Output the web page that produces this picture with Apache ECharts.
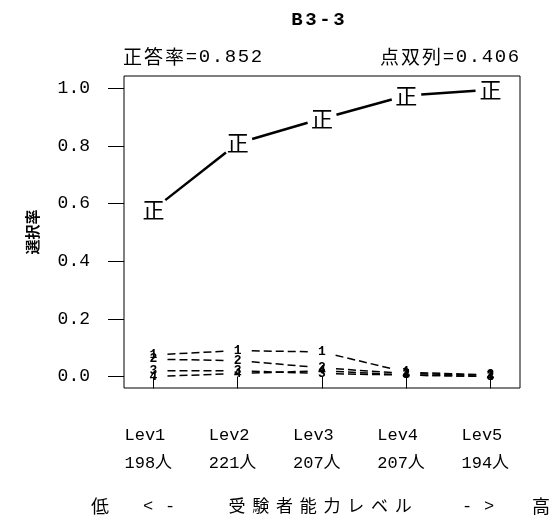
<!DOCTYPE html>
<html><head><meta charset="utf-8">
<script src="https://cdn.jsdelivr.net/npm/echarts@6/dist/echarts.min.js"></script>
<style>html,body{margin:0;padding:0;background:#fff}#c{width:559px;height:522px}</style>
</head><body><div id="c"></div>
<script>
// ---- data ----
const title = 'B3-3';
const levels = ['Lev1', 'Lev2', 'Lev3', 'Lev4', 'Lev5'];
const counts = ['198人', '221人', '207人', '207人', '194人'];
const correctRateText = '正答率=0.852';
const pointBiserialText = '点双列=0.406';
const yTicks = [0, 0.2, 0.4, 0.6, 0.8, 1.0];
const correctMark = '正';
const correct = [0.58, 0.81, 0.895, 0.975, 0.995];
const dist1 = [0.075, 0.09, 0.085, 0.015, 0.005];
const dist2 = [0.06, 0.055, 0.03, 0.01, 0.005];
const dist3 = [0.02, 0.02, 0.01, 0.005, 0.0];
const dist4 = [0.0, 0.01, 0.02, 0.005, 0.0];
const distLabels = ['1', '2', '3', '4'];
const yName = '選択率';
const xName = '受験者能力レベル';
const lowMark = '低', highMark = '高', leftArrow = '<-', rightArrow = '->';

// ---- helpers ----
const CJK = '"Noto Sans CJK JP"';
const MONO = '"Liberation Mono","DejaVu Sans Mono",monospace';
function spaced(str) {
  return Array.from(str).map(ch => (ch.charCodeAt(0) > 255 ? '{k|' + ch + '}' : '{a|' + ch + '}')).join('');
}
function richSet(cw, aw, size, bold) {
  return {
    k: { width: cw, align: 'center', fontSize: size, fontFamily: CJK, fontWeight: bold ? 'bold' : 'normal', fill: '#000' },
    a: { width: aw, align: 'center', fontSize: size, fontFamily: MONO, fontWeight: bold ? 'bold' : 'normal', fill: '#000' }
  };
}
const xs = levels.map((_, i) => i + 1);

function segSeries(vals, dashed, width, gap) {
  const data = [];
  for (let i = 0; i < vals.length - 1; i++) data.push([xs[i], vals[i], xs[i + 1], vals[i + 1]]);
  return {
    type: 'custom', coordinateSystem: 'cartesian2d', silent: true, data,
    encode: { x: [0, 2], y: [1, 3] },
    renderItem(params, api) {
      const p1 = api.coord([api.value(0), api.value(1)]);
      const p2 = api.coord([api.value(2), api.value(3)]);
      const dx = p2[0] - p1[0], dy = p2[1] - p1[1];
      const L = Math.hypot(dx, dy), ux = dx / L, uy = dy / L;
      return {
        type: 'line',
        shape: { x1: p1[0] + ux * gap, y1: p1[1] + uy * gap, x2: p2[0] - ux * gap, y2: p2[1] - uy * gap },
        style: { stroke: '#000', lineWidth: width, lineDash: dashed ? [8, 4] : null }
      };
    }
  };
}
function markSeries(vals, mark, size, family, bold) {
  return {
    type: 'scatter', silent: true, symbolSize: 1, itemStyle: { color: 'rgba(0,0,0,0)' },
    data: vals.map((v, i) => [xs[i], v]),
    labelLayout: { hideOverlap: false },
    label: { show: true, position: 'inside', formatter: mark, color: '#000', opacity: 1, fontSize: size, fontFamily: family, fontWeight: bold ? 'bold' : 'normal' },
    z: 5
  };
}

const chart = echarts.init(document.getElementById('c'), null, { renderer: 'canvas' });
const dists = [dist1, dist2, dist3, dist4];
const series = [segSeries(correct, false, 2.5, 15), markSeries(correct, correctMark, 22, CJK, false)];
dists.forEach((d, k) => {
  series.push(segSeries(d, true, 1.5, 14));
  series.push(markSeries(d, distLabels[k], 13, MONO, true));
});

chart.setOption({
  animation: false,
  backgroundColor: '#fff',
  grid: { left: 124, top: 76, width: 396, height: 312, show: true, borderColor: '#000', borderWidth: 1, backgroundColor: 'transparent' },
  xAxis: {
    type: 'value', min: 0.65, max: 5.35,
    axisLine: { show: false }, splitLine: { show: false },
    axisTick: { show: true, length: 12, lineStyle: { color: '#000', width: 1 }, customValues: xs },
    axisLabel: {
      customValues: xs, margin: 33, align: 'center', color: '#000',
      formatter: v => { const i = Math.round(v) - 1; return '{a|' + levels[i] + '}\n{a|' + counts[i] + '}'; },
      rich: { a: { width: 58, align: 'left', fontSize: 17, lineHeight: 28, fontFamily: MONO + ',' + CJK, color: '#000' } }
    }
  },
  yAxis: {
    type: 'value', min: -0.04, max: 1.043,
    name: yName, nameLocation: 'middle', nameGap: 84, nameRotate: 90,
    nameTextStyle: { fontSize: 15, fontFamily: CJK, color: '#000', fontWeight: 'bold' },
    axisLine: { show: false }, splitLine: { show: false },
    axisTick: { show: true, length: 16, lineStyle: { color: '#000', width: 1 }, customValues: yTicks },
    axisLabel: { customValues: yTicks, margin: 34, color: '#000', fontSize: 18, fontFamily: MONO, formatter: v => v.toFixed(1) }
  },
  graphic: [
    { type: 'text', x: 318, y: 20, style: { text: spaced(title), rich: richSet(15, 14, 19, true), align: 'center', verticalAlign: 'middle' } },
    { type: 'text', x: 122, y: 57, style: { text: spaced(correctRateText), rich: richSet(21, 13, 19, false), align: 'left', verticalAlign: 'middle' } },
    { type: 'text', x: 520, y: 57, style: { text: spaced(pointBiserialText), rich: richSet(21, 13, 19, false), align: 'right', verticalAlign: 'middle' } },
    { type: 'text', x: 100, y: 506, style: { text: lowMark, font: '18px ' + CJK, fill: '#000', align: 'center', verticalAlign: 'middle' } },
    { type: 'text', x: 159, y: 506, style: { text: spaced(leftArrow), rich: richSet(22, 22, 17, false), align: 'center', verticalAlign: 'middle' } },
    { type: 'text', x: 320, y: 506, style: { text: spaced(xName), rich: richSet(23.75, 23.75, 17, false), align: 'center', verticalAlign: 'middle' } },
    { type: 'text', x: 478, y: 506, style: { text: spaced(rightArrow), rich: richSet(22, 22, 17, false), align: 'center', verticalAlign: 'middle' } },
    { type: 'text', x: 541, y: 506, style: { text: highMark, font: '18px ' + CJK, fill: '#000', align: 'center', verticalAlign: 'middle' } }
  ],
  series
});
</script>
</body></html>
